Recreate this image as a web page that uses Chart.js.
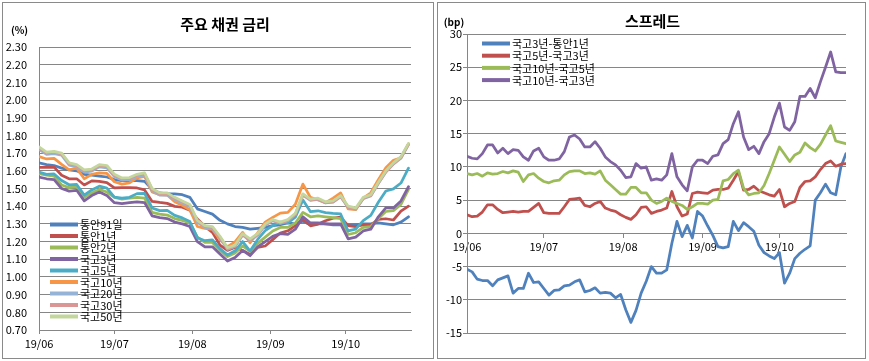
<!DOCTYPE html>
<html>
<head>
<meta charset="utf-8">
<script src="https://cdn.jsdelivr.net/npm/chart.js@4"></script>
<style>
  html, body { margin: 0; padding: 0; background: #fff; }
  #wrap { position: relative; width: 869px; height: 361px; }
  canvas { position: absolute; top: 0; }
  #rates { left: 0; }
  #spread { left: 436px; }
</style>
</head>
<body>
<div id="wrap">
  <canvas id="rates" width="436" height="361"></canvas>
  <canvas id="spread" width="433" height="361"></canvas>
</div>
<script>
// x axis: days counted from the first data point (19/06 tick)
const tickDays = [0, 30, 61, 92, 122];
const tickLabels = ['19/06', '19/07', '19/08', '19/09', '19/10'];

// ---- 주요 채권 금리 (%) ----
const rateTicks = [0.7, 0.8, 0.9, 1.0, 1.1, 1.2, 1.3, 1.4, 1.5, 1.6, 1.7, 1.8, 1.9, 2.0, 2.1, 2.2, 2.3];
const rateDays = [0, 3, 6, 9, 12, 15, 18, 21, 24, 27, 30, 33, 36, 39, 42, 45, 48, 51, 54, 57,
  60, 63, 66, 69, 72, 75, 78, 81, 84, 87, 90, 93, 96, 99, 102, 105, 108, 111, 114, 117,
  120, 123, 126, 129, 132, 135, 138, 141, 144, 147];
const rateNames = ['통안91일', '통안1년', '통안2년', '국고3년', '국고5년', '국고10년', '국고20년', '국고30년', '국고50년'];
const rateColors = ['#4F81BD', '#C0504D', '#9BBB59', '#8064A2', '#4BACC6', '#F79646', '#95B3D7', '#D99694', '#C3D69B'];

const tb91 = [1.645, 1.635, 1.630, 1.615, 1.605, 1.600, 1.580, 1.575, 1.570, 1.565, 1.550, 1.545, 1.545, 1.545, 1.540, 1.495, 1.475, 1.470, 1.470, 1.465,
  1.450, 1.385, 1.370, 1.355, 1.320, 1.300, 1.285, 1.280, 1.270, 1.275, 1.280, 1.290, 1.295, 1.305, 1.300, 1.315, 1.295, 1.300, 1.300, 1.295,
  1.295, 1.295, 1.295, 1.300, 1.300, 1.305, 1.300, 1.295, 1.310, 1.340];
const tb1 = [1.619, 1.619, 1.621, 1.575, 1.555, 1.555, 1.520, 1.543, 1.540, 1.533, 1.503, 1.505, 1.505, 1.503, 1.492, 1.427, 1.421, 1.416, 1.399, 1.394,
  1.377, 1.328, 1.286, 1.252, 1.180, 1.150, 1.168, 1.150, 1.127, 1.167, 1.175, 1.211, 1.248, 1.261, 1.290, 1.325, 1.289, 1.299, 1.318, 1.332,
  1.338, 1.290, 1.285, 1.294, 1.294, 1.325, 1.329, 1.322, 1.372, 1.400];
const tb2 = [1.585, 1.575, 1.570, 1.520, 1.505, 1.510, 1.450, 1.475, 1.495, 1.480, 1.450, 1.440, 1.445, 1.450, 1.445, 1.365, 1.355, 1.350, 1.330, 1.320,
  1.305, 1.225, 1.195, 1.195, 1.150, 1.115, 1.135, 1.175, 1.145, 1.190, 1.225, 1.260, 1.280, 1.280, 1.305, 1.365, 1.340, 1.345, 1.340, 1.335,
  1.330, 1.240, 1.250, 1.280, 1.285, 1.330, 1.370, 1.375, 1.410, 1.495];
const k3 = [1.565, 1.555, 1.550, 1.500, 1.485, 1.490, 1.430, 1.460, 1.480, 1.460, 1.420, 1.415, 1.420, 1.425, 1.420, 1.345, 1.335, 1.330, 1.310, 1.300,
  1.285, 1.200, 1.170, 1.170, 1.130, 1.090, 1.110, 1.150, 1.120, 1.170, 1.200, 1.230, 1.245, 1.240, 1.270, 1.340, 1.305, 1.305, 1.300, 1.300,
  1.300, 1.215, 1.225, 1.260, 1.270, 1.340, 1.390, 1.390, 1.430, 1.510];
const k5 = [1.593, 1.580, 1.582, 1.545, 1.521, 1.523, 1.463, 1.492, 1.513, 1.502, 1.451, 1.445, 1.450, 1.471, 1.472, 1.390, 1.375, 1.376, 1.348, 1.334,
  1.313, 1.222, 1.205, 1.210, 1.160, 1.124, 1.148, 1.200, 1.146, 1.212, 1.262, 1.290, 1.310, 1.306, 1.338, 1.435, 1.369, 1.374, 1.364, 1.359,
  1.356, 1.260, 1.270, 1.318, 1.348, 1.422, 1.486, 1.498, 1.531, 1.615];
const k10 = [1.681, 1.667, 1.670, 1.636, 1.606, 1.615, 1.555, 1.580, 1.588, 1.585, 1.538, 1.525, 1.532, 1.560, 1.568, 1.481, 1.465, 1.463, 1.425, 1.405,
  1.380, 1.285, 1.275, 1.269, 1.210, 1.171, 1.198, 1.252, 1.193, 1.250, 1.310, 1.337, 1.361, 1.365, 1.411, 1.525, 1.450, 1.435, 1.420, 1.445,
  1.475, 1.385, 1.380, 1.445, 1.476, 1.550, 1.618, 1.660, 1.673, 1.752];
const k20 = [1.722, 1.693, 1.697, 1.688, 1.632, 1.622, 1.592, 1.598, 1.622, 1.617, 1.567, 1.548, 1.550, 1.568, 1.576, 1.488, 1.463, 1.463, 1.438, 1.418,
  1.398, 1.308, 1.280, 1.275, 1.220, 1.156, 1.172, 1.236, 1.206, 1.236, 1.292, 1.318, 1.303, 1.318, 1.353, 1.463, 1.433, 1.438, 1.418, 1.423,
  1.453, 1.393, 1.383, 1.443, 1.458, 1.528, 1.593, 1.638, 1.672, 1.748];
const k30 = [1.730, 1.700, 1.705, 1.695, 1.640, 1.630, 1.600, 1.605, 1.630, 1.625, 1.575, 1.555, 1.557, 1.575, 1.583, 1.495, 1.470, 1.470, 1.445, 1.425,
  1.405, 1.315, 1.285, 1.280, 1.225, 1.160, 1.175, 1.240, 1.210, 1.240, 1.295, 1.320, 1.305, 1.320, 1.355, 1.465, 1.435, 1.440, 1.420, 1.425,
  1.455, 1.395, 1.385, 1.445, 1.460, 1.530, 1.595, 1.640, 1.675, 1.750];
const k50 = [1.735, 1.705, 1.710, 1.700, 1.645, 1.635, 1.605, 1.610, 1.635, 1.630, 1.580, 1.560, 1.562, 1.580, 1.588, 1.500, 1.475, 1.475, 1.450, 1.430,
  1.410, 1.320, 1.290, 1.285, 1.230, 1.165, 1.180, 1.245, 1.215, 1.245, 1.300, 1.325, 1.310, 1.325, 1.360, 1.470, 1.440, 1.445, 1.425, 1.430,
  1.460, 1.400, 1.390, 1.450, 1.465, 1.535, 1.600, 1.645, 1.680, 1.755];
const rateSeries = [tb91, tb1, tb2, k3, k5, k10, k20, k30, k50];

// ---- 스프레드 (bp) ----
const spreadTicks = [-15, -10, -5, 0, 5, 10, 15, 20, 25, 30];
const spreadDays = [0, 2, 4, 6, 8, 10, 12, 14, 16, 18, 20, 22, 24, 26, 28, 30, 32, 34, 36, 38,
  40, 42, 44, 46, 48, 50, 52, 54, 56, 58, 60, 62, 64, 66, 68, 70, 72, 74, 76, 78,
  80, 82, 84, 86, 88, 90, 92, 94, 96, 98, 100, 102, 104, 106, 108, 110, 112, 114, 116, 118,
  120, 122, 124, 126, 128, 130, 132, 134, 136, 138, 140, 142, 144, 146, 148];
const spreadNames = ['국고3년-통안1년', '국고5년-국고3년', '국고10년-국고5년', '국고10년-국고3년'];
const spreadColors = ['#4F81BD', '#C0504D', '#9BBB59', '#8064A2'];

const sp31 = [-5.4, -5.8, -6.9, -7.1, -7.1, -7.9, -7.0, -6.7, -6.4, -9.0,
  -8.3, -8.3, -6.0, -7.4, -7.3, -8.3, -9.3, -8.6, -8.5, -7.9,
  -7.8, -7.3, -7.0, -8.8, -8.6, -8.2, -9.0, -8.9, -9.0, -9.7,
  -9.2, -11.5, -13.4, -11.6, -9.0, -7.2, -5.0, -6.0, -6.0, -5.5,
  -1.5, 1.8, -0.5, 1.2, -0.7, 3.3, 2.6, 1.1, -0.3, -2.0,
  -2.2, -2.0, 1.8, 0.4, 1.6, 1.0, 0.3, -1.8, -2.9, -3.4,
  -3.8, -2.9, -7.5, -6.0, -3.8, -3.0, -2.4, -1.9, 5.0, 6.1,
  7.4, 6.1, 5.8, 10.0, 12.0];
const sp53 = [2.8, 2.5, 2.6, 3.2, 4.3, 4.3, 3.6, 3.1, 3.2, 3.3,
  3.2, 3.3, 3.3, 3.9, 4.5, 3.1, 3.0, 3.0, 3.0, 4.0,
  5.1, 5.2, 5.3, 4.2, 4.0, 4.5, 4.8, 3.8, 3.5, 3.3,
  2.8, 2.4, 2.1, 2.8, 3.9, 4.0, 3.0, 3.3, 3.5, 3.8,
  6.3, 4.0, 2.6, 2.9, 6.0, 6.2, 6.1, 6.0, 6.5, 6.6,
  6.6, 6.8, 8.0, 9.3, 6.5, 6.6, 7.1, 6.4, 6.1, 5.8,
  5.6, 6.6, 4.0, 4.5, 4.8, 6.9, 7.8, 7.9, 8.5, 9.6,
  10.5, 10.9, 10.1, 10.4, 10.5];
const sp105 = [9.0, 8.8, 9.0, 8.6, 9.1, 8.9, 9.0, 9.3, 9.1, 9.4,
  9.2, 7.8, 8.8, 9.0, 8.3, 7.8, 7.6, 7.9, 8.0, 8.8,
  9.3, 9.4, 9.4, 9.0, 9.1, 8.9, 9.4, 8.0, 7.3, 6.6,
  5.9, 5.9, 6.9, 6.9, 6.1, 6.1, 5.0, 4.5, 4.8, 5.3,
  4.8, 4.5, 4.2, 3.6, 4.0, 4.5, 4.5, 4.4, 5.0, 5.1,
  7.9, 8.1, 9.0, 9.5, 6.8, 5.8, 6.0, 6.1, 7.2, 9.0,
  11.0, 13.0, 11.9, 10.8, 11.8, 12.2, 13.6, 12.9, 12.4, 13.4,
  14.8, 16.2, 13.9, 13.7, 13.5];
const sp103 = [11.6, 11.3, 11.2, 12.0, 13.3, 13.3, 12.1, 12.8, 12.0, 12.6,
  12.5, 11.5, 11.0, 12.4, 12.8, 11.5, 11.0, 11.0, 11.2, 12.3,
  14.5, 14.8, 14.2, 13.0, 13.0, 13.8, 12.8, 11.5, 10.8, 10.3,
  9.5, 8.4, 8.5, 10.5, 9.8, 10.0, 8.0, 8.2, 8.0, 8.8,
  12.0, 8.5, 7.3, 6.4, 10.0, 11.0, 11.0, 10.5, 11.6, 11.8,
  13.5, 14.1, 16.5, 18.3, 14.5, 12.6, 13.1, 12.0, 13.8, 15.0,
  17.5, 19.6, 16.0, 15.5, 16.8, 20.6, 20.6, 21.8, 20.4, 22.8,
  25.0, 27.3, 24.3, 24.2, 24.2];
const spreadSeries = [sp31, sp53, sp105, sp103];

const FONT = '"Noto Sans CJK KR", "Noto Sans", sans-serif';
const GRID = '#868686';
Chart.defaults.font.family = FONT;
Chart.defaults.font.size = 11;
Chart.defaults.color = '#000';

// frame, title, unit and legend, drawn like the spreadsheet chart
const decor = {
  id: 'decor',
  afterDraw(chart, args, o) {
    const ctx = chart.ctx;
    ctx.save();
    ctx.strokeStyle = '#8a8a8a';
    ctx.lineWidth = 1;
    ctx.strokeRect(o.box[0] + 0.5, o.box[1] + 0.5, o.box[2], o.box[3]);
    ctx.fillStyle = '#000';
    ctx.textBaseline = 'middle';
    ctx.textAlign = 'center';
    ctx.font = 'bold 15px ' + FONT;
    ctx.fillText(o.title, o.titleX, o.titleY);
    ctx.font = 'bold 10px ' + FONT;
    ctx.fillText(o.unit, o.unitX, o.unitY);
    ctx.textAlign = 'left';
    ctx.font = '11px ' + FONT;
    chart.data.datasets.forEach((ds, i) => {
      const y = o.legY + i * o.legStep;
      ctx.strokeStyle = ds.borderColor;
      ctx.lineWidth = 4;
      ctx.beginPath();
      ctx.moveTo(o.legX, y);
      ctx.lineTo(o.legX + 28, y);
      ctx.stroke();
      ctx.fillText(ds.label, o.legX + 30, y + 0.5);
    });
    ctx.restore();
  }
};

function makeSets(names, colors, series, days) {
  return names.map((n, i) => ({
    label: n,
    data: days.map((d, j) => ({ x: d, y: series[i][j] })),
    borderColor: colors[i],
    backgroundColor: colors[i],
    borderWidth: 2.75,
    pointRadius: 0,
    tension: 0,
    borderJoinStyle: 'round',
    borderCapStyle: 'round',
    order: names.length - i
  }));
}

function xAxis(extra) {
  return Object.assign({
    type: 'linear', min: 0, max: 148,
    afterBuildTicks: s => { s.ticks = tickDays.map(v => ({ value: v })); },
    ticks: { autoSkip: false, maxRotation: 0, padding: 3, callback: (v, i) => tickLabels[i] },
    grid: { drawOnChartArea: false, tickLength: 4, color: GRID },
    border: { color: GRID }
  }, extra);
}

// nudge the layout padding until the plot area sits where the reference has it
function pin(chart, area) {
  for (let k = 0; k < 4; k++) {
    const a = chart.chartArea;
    const p = chart.config.options.layout.padding;
    chart.config.options.layout.padding = {
      left: p.left + area.left - a.left,
      top: p.top + area.top - a.top,
      right: p.right + a.right - area.right,
      bottom: p.bottom + a.bottom - area.bottom
    };
    chart.update('none');
  }
}

const ratesChart = new Chart(document.getElementById('rates'), {
  type: 'line',
  data: { datasets: makeSets(rateNames, rateColors, rateSeries, rateDays) },
  options: {
    responsive: false, animation: false, devicePixelRatio: 1,
    layout: { padding: { left: 0, top: 47, right: 25, bottom: 0 } },
    plugins: {
      legend: { display: false }, tooltip: { enabled: false },
      decor: { box: [2, 2, 431, 356], title: '주요 채권 금리', titleX: 225, titleY: 24,
        unit: '(%)', unitX: 19.5, unitY: 30, legX: 50, legY: 224.5, legStep: 11.5 }
    },
    scales: {
      x: xAxis({ afterFit: s => { s.height = 31; } }),
      y: {
        min: 0.7, max: 2.3,
        afterBuildTicks: s => { s.ticks = rateTicks.map(v => ({ value: v })); },
        afterFit: s => { s.width = 39; },
        ticks: { padding: 12, callback: v => v.toFixed(2) },
        grid: { color: GRID, drawTicks: false },
        border: { color: GRID }
      }
    }
  },
  plugins: [decor]
});
pin(ratesChart, { left: 39, top: 47, right: 411, bottom: 330 });

const spreadChart = new Chart(document.getElementById('spread'), {
  type: 'line',
  data: { datasets: makeSets(spreadNames, spreadColors, spreadSeries, spreadDays) },
  options: {
    responsive: false, animation: false, devicePixelRatio: 1,
    layout: { padding: { left: 0, top: 34, right: 23, bottom: 28 } },
    plugins: {
      legend: { display: false }, tooltip: { enabled: false },
      decor: { box: [1, 2, 428, 356], title: '스프레드', titleX: 216.5, titleY: 21.5,
        unit: '(bp)', unitX: 18, unitY: 22.5, legX: 46, legY: 43.5, legStep: 12.2 }
    },
    scales: {
      x: xAxis({ position: { y: 0 } }),
      y: {
        min: -15, max: 30,
        afterBuildTicks: s => { s.ticks = spreadTicks.map(v => ({ value: v })); },
        afterFit: s => { s.width = 31; },
        ticks: { padding: 1, callback: v => String(v) },
        grid: { color: GRID, tickLength: 4 },
        border: { color: GRID }
      }
    }
  },
  plugins: [decor]
});
pin(spreadChart, { left: 31, top: 34, right: 410, bottom: 333 });
</script>
</body>
</html>
